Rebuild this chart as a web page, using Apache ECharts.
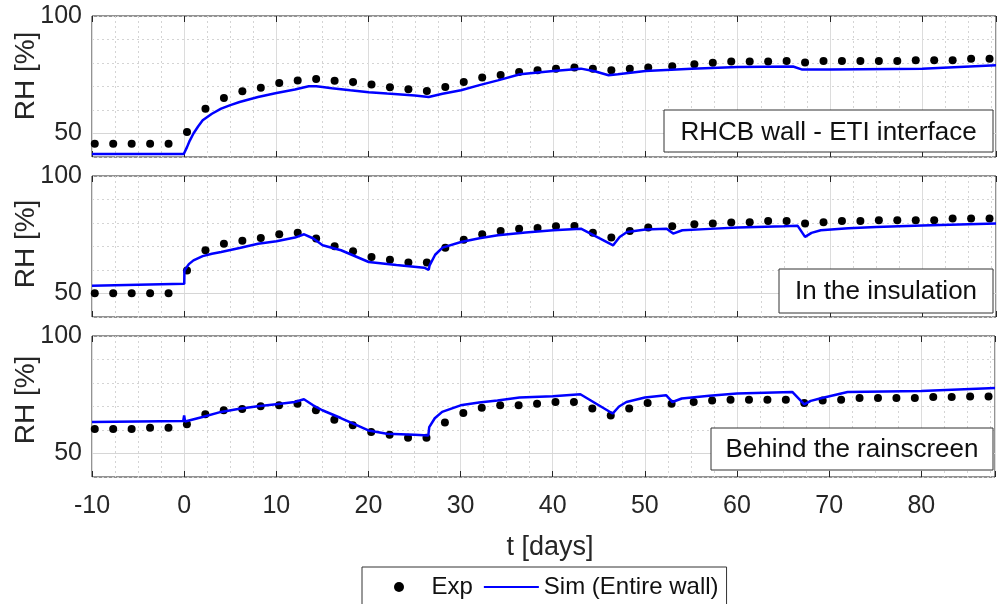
<!DOCTYPE html>
<html>
<head>
<meta charset="utf-8">
<script src="https://cdn.jsdelivr.net/npm/echarts@6/dist/echarts.min.js"></script>
<style>html,body{margin:0;padding:0;background:#fff}#c{width:998px;height:604px}</style>
</head>
<body>
<div id="c"></div>
<script>
// Experimental sampling times (days)
const tExp = [-9.7,-7.7,-5.7,-3.7,-1.7,0.3,2.3,4.3,6.3,8.3,10.3,12.3,14.3,16.3,18.3,20.3,22.3,24.3,26.3,28.3,30.3,32.3,34.3,
  36.3,38.3,40.3,42.3,44.3,46.3,48.3,50.3,52.9,
  55.3,57.3,59.3,61.3,63.3,65.3,67.3,69.3,71.3,73.3,75.3,77.3,79.3,81.3,83.3,85.3,87.3];
// Panel 1: RHCB wall - ETI interface
const exp1 = [45.6,45.6,45.6,45.6,45.6,50.6,60.5,65.1,68.0,69.5,71.5,72.6,73.2,72.5,71.9,70.8,69.7,68.8,68.1,69.8,71.9,73.8,74.9,
  76.2,76.9,77.6,78.1,77.6,76.9,77.6,78.1,78.6,
  79.5,80.1,80.6,80.6,80.6,80.8,80.2,80.8,80.8,80.8,80.8,80.8,81.2,81.2,81.2,81.8,81.8];
// Panel 2: In the insulation
const exp2 = [50.1,50.1,50.1,50.1,50.1,59.8,68.4,71.2,72.4,73.6,75.2,75.9,73.4,70.1,68.0,65.5,64.4,63.2,63.2,69.5,72.9,75.2,76.6,
  77.6,77.9,78.6,78.7,75.8,73.8,76.6,78.1,78.6,
  79.5,79.8,80.2,80.3,80.9,80.9,79.8,80.3,80.9,80.9,81.2,81.2,81.2,81.2,81.9,81.9,81.9];
// Panel 3: Behind the rainscreen
const exp3 = [60.4,60.4,60.4,61.0,61.0,62.4,66.7,68.4,68.9,70.1,70.5,71.2,68.4,64.4,62.0,59.1,58.0,56.7,56.7,63.2,67.2,69.5,70.5,
  70.5,71.2,71.9,71.9,69.1,66.2,69.1,71.5,71.2,
  71.9,72.6,72.9,72.9,72.9,72.9,71.5,72.6,72.9,73.6,73.6,73.6,73.6,74.0,74.0,74.3,74.3];

// Simulation (Entire wall)
const simT1 = [-10,-0.05,0,0.3,0.6,1,1.5,2,3,4,5,6,7,8,9,10,11,12,12.8,13.5,14.3,15,16,18,20,22,25,26.5,28,30,32,34,36.4,40,43,44.5,46,47,50,55,60,66,67,70,80,88];
const simV1 = [41.3,41.3,41.5,44.2,47.0,50.0,53.0,55.6,58.4,60.6,62.1,63.4,64.5,65.5,66.4,67.2,68.0,68.7,69.5,70.1,70.1,69.8,69.3,68.4,67.6,67.0,66.2,65.5,66.9,68.4,70.6,72.6,75.2,76.6,77.6,76.5,74.8,75.2,76.6,77.6,78.3,78.5,77.2,77.2,77.6,79.0];
const simT2 = [-10,0,0.02,0.5,1,2,3,4,6,8,10,12,13,14,15,17,20,23,26,26.5,26.6,27.2,28,30,32,34,37,40,43,46.5,47.2,48,50,52.3,53,54,57,60,65,66.5,67.3,68,69,72,75,80,88];
const simV2 = [53.3,54.1,59.8,62.5,64.1,65.9,66.9,67.7,69.4,71.2,72.2,73.8,75.2,73.4,70.5,68.4,63.4,62.1,61.0,60.1,62.0,66.5,69.5,71.9,73.5,74.8,76.0,76.9,77.6,70.5,74.0,76.2,77.2,77.6,75.5,76.9,77.5,78.1,78.6,78.8,74.1,75.8,76.9,77.8,78.3,78.9,79.8];
const simT3 = [-10,-0.1,0,0.1,2,4,6,8,10,12,13,14,15,17,20,22,25,26.5,26.6,27.2,28,30,32,34,36.4,40,43,46.5,47.2,48,50,52.3,53,54,57,60,66,67.3,68,69,72,80,88];
const simV3 = [63.4,63.8,66.2,63.6,65.5,67.7,69.0,70.1,71.0,71.9,73.1,70.5,68.4,65.1,59.8,58.4,58.0,57.7,61.2,65.0,67.7,70.5,71.7,72.6,73.8,74.4,75.2,67.0,70.0,71.9,73.8,74.8,71.9,73.4,74.6,75.5,76.2,70.9,72.4,73.4,76.2,76.6,77.9];

const xTickLabels = [-10,0,10,20,30,40,50,60,70,80];
const yTickLabels = [50,100];
const panelTitles = ['RHCB wall - ETI interface','In the insulation','Behind the rainscreen'];

const FONT = 'Liberation Sans, Arial, sans-serif';
const expSets = [exp1, exp2, exp3];
const simSets = [[simT1, simV1],[simT2, simV2],[simT3, simV3]];
const gridTops = [16, 176, 336];
const GH = 141, GL = 92, GW = 904;

const grids = [], xAxes = [], yAxes = [], series = [], graphics = [];
gridTops.forEach((top, i) => {
  grids.push({left: GL, top: top, width: GW, height: GH, show: true, borderColor: '#262626', borderWidth: 1, backgroundColor: 'transparent'});
  // minor x grid
  xAxes.push({gridIndex: i, type: 'value', min: -10, max: 88, interval: 2.5,
    axisLine: {show: false}, axisTick: {show: false}, axisLabel: {show: false},
    splitLine: {show: true, lineStyle: {color: '#d4d4d4', type: [2, 3], width: 1}}});
  // major x axis
  xAxes.push({gridIndex: i, type: 'value', min: -10, max: 88, interval: 10, position: 'bottom',
    axisLine: {show: false},
    axisTick: {show: true, inside: true, length: 6, lineStyle: {color: '#262626'}},
    axisLabel: {show: i === 2, margin: 17, fontSize: 25, color: '#262626', fontFamily: FONT,
      formatter: v => xTickLabels.indexOf(v) >= 0 ? String(v) : ''},
    splitLine: {show: true, lineStyle: {color: '#dcdcdc', type: 'solid', width: 1}}});
  // top ticks
  xAxes.push({gridIndex: i, type: 'value', min: -10, max: 88, interval: 10, position: 'top',
    axisLine: {show: false},
    axisTick: {show: true, inside: true, length: 6, lineStyle: {color: '#262626'}},
    axisLabel: {show: false}, splitLine: {show: false}});
  yAxes.push({gridIndex: i, type: 'value', min: 40, max: 100, interval: 10,
    axisLine: {show: false}, axisTick: {show: false},
    axisLabel: {show: true, margin: 10, fontSize: 25, color: '#262626', fontFamily: FONT,
      formatter: v => yTickLabels.indexOf(v) >= 0 ? String(v) : ''},
    splitLine: {show: true, lineStyle: {color: '#d4d4d4', type: [2, 3], width: 1}}});
  series.push({name: 'Exp', type: 'scatter', xAxisIndex: 3*i+1, yAxisIndex: i,
    symbol: 'circle', symbolSize: 8, itemStyle: {color: '#000', opacity: 1}, z: 3,
    data: tExp.map((t, k) => [t, expSets[i][k]]),
    markLine: {silent: true, symbol: 'none', label: {show: false}, z: 1,
      lineStyle: {color: '#d6d6d6', type: 'solid', width: 1}, data: [{yAxis: 50}]}});
  series.push({name: 'Sim (Entire wall)', type: 'line', xAxisIndex: 3*i+1, yAxisIndex: i,
    symbol: 'none', showSymbol: false, lineStyle: {color: '#0000ff', width: 2.5}, itemStyle: {color: '#0000ff'}, z: 4,
    data: simSets[i][0].map((t, k) => [t, simSets[i][1][k]])});
});

const boxes = [
  {x: 664, y: 110, w: 329, h: 42, cy: 133},
  {x: 779, y: 269, w: 214, h: 44, cy: 292},
  {x: 711, y: 428, w: 282, h: 42, cy: 450}
];
boxes.forEach((b, i) => {
  graphics.push({type: 'rect', shape: {x: b.x, y: b.y, width: b.w, height: b.h}, z: 10,
    style: {fill: '#fff', stroke: '#333', lineWidth: 1}});
  graphics.push({type: 'text', x: b.x + b.w/2, y: b.cy, z: 11,
    style: {text: panelTitles[i], fontSize: 26, fontFamily: FONT, fill: '#111', align: 'center', verticalAlign: 'middle'}});
});
const ylabelY = [76, 244, 400];
ylabelY.forEach(cy => {
  graphics.push({type: 'text', x: 26, y: cy, rotation: Math.PI/2, z: 11,
    style: {text: 'RH [%]', fontSize: 28, fontFamily: FONT, fill: '#262626', align: 'center', verticalAlign: 'middle'}});
});
graphics.push({type: 'text', x: 550, y: 548, z: 11,
  style: {text: 't [days]', fontSize: 27, fontFamily: FONT, fill: '#262626', align: 'center', verticalAlign: 'middle'}});

const chart = echarts.init(document.getElementById('c'), null, {renderer: 'canvas'});
chart.setOption({
  animation: false,
  backgroundColor: '#fff',
  grid: grids, xAxis: xAxes, yAxis: yAxes, series: series, graphic: graphics,
  legend: {left: 362, top: 567, orient: 'horizontal', padding: [8, 8, 10, 32],
    borderColor: '#333', borderWidth: 1, backgroundColor: '#fff',
    itemWidth: 55, itemHeight: 10, itemGap: 10,
    textStyle: {fontSize: 24, fontFamily: FONT, color: '#111'},
    data: [{name: 'Exp', icon: 'circle', itemStyle: {color: '#000', opacity: 1}},
           {name: 'Sim (Entire wall)', itemStyle: {color: 'rgba(0,0,0,0)', borderWidth: 0}}]}
});
</script>
</body>
</html>
